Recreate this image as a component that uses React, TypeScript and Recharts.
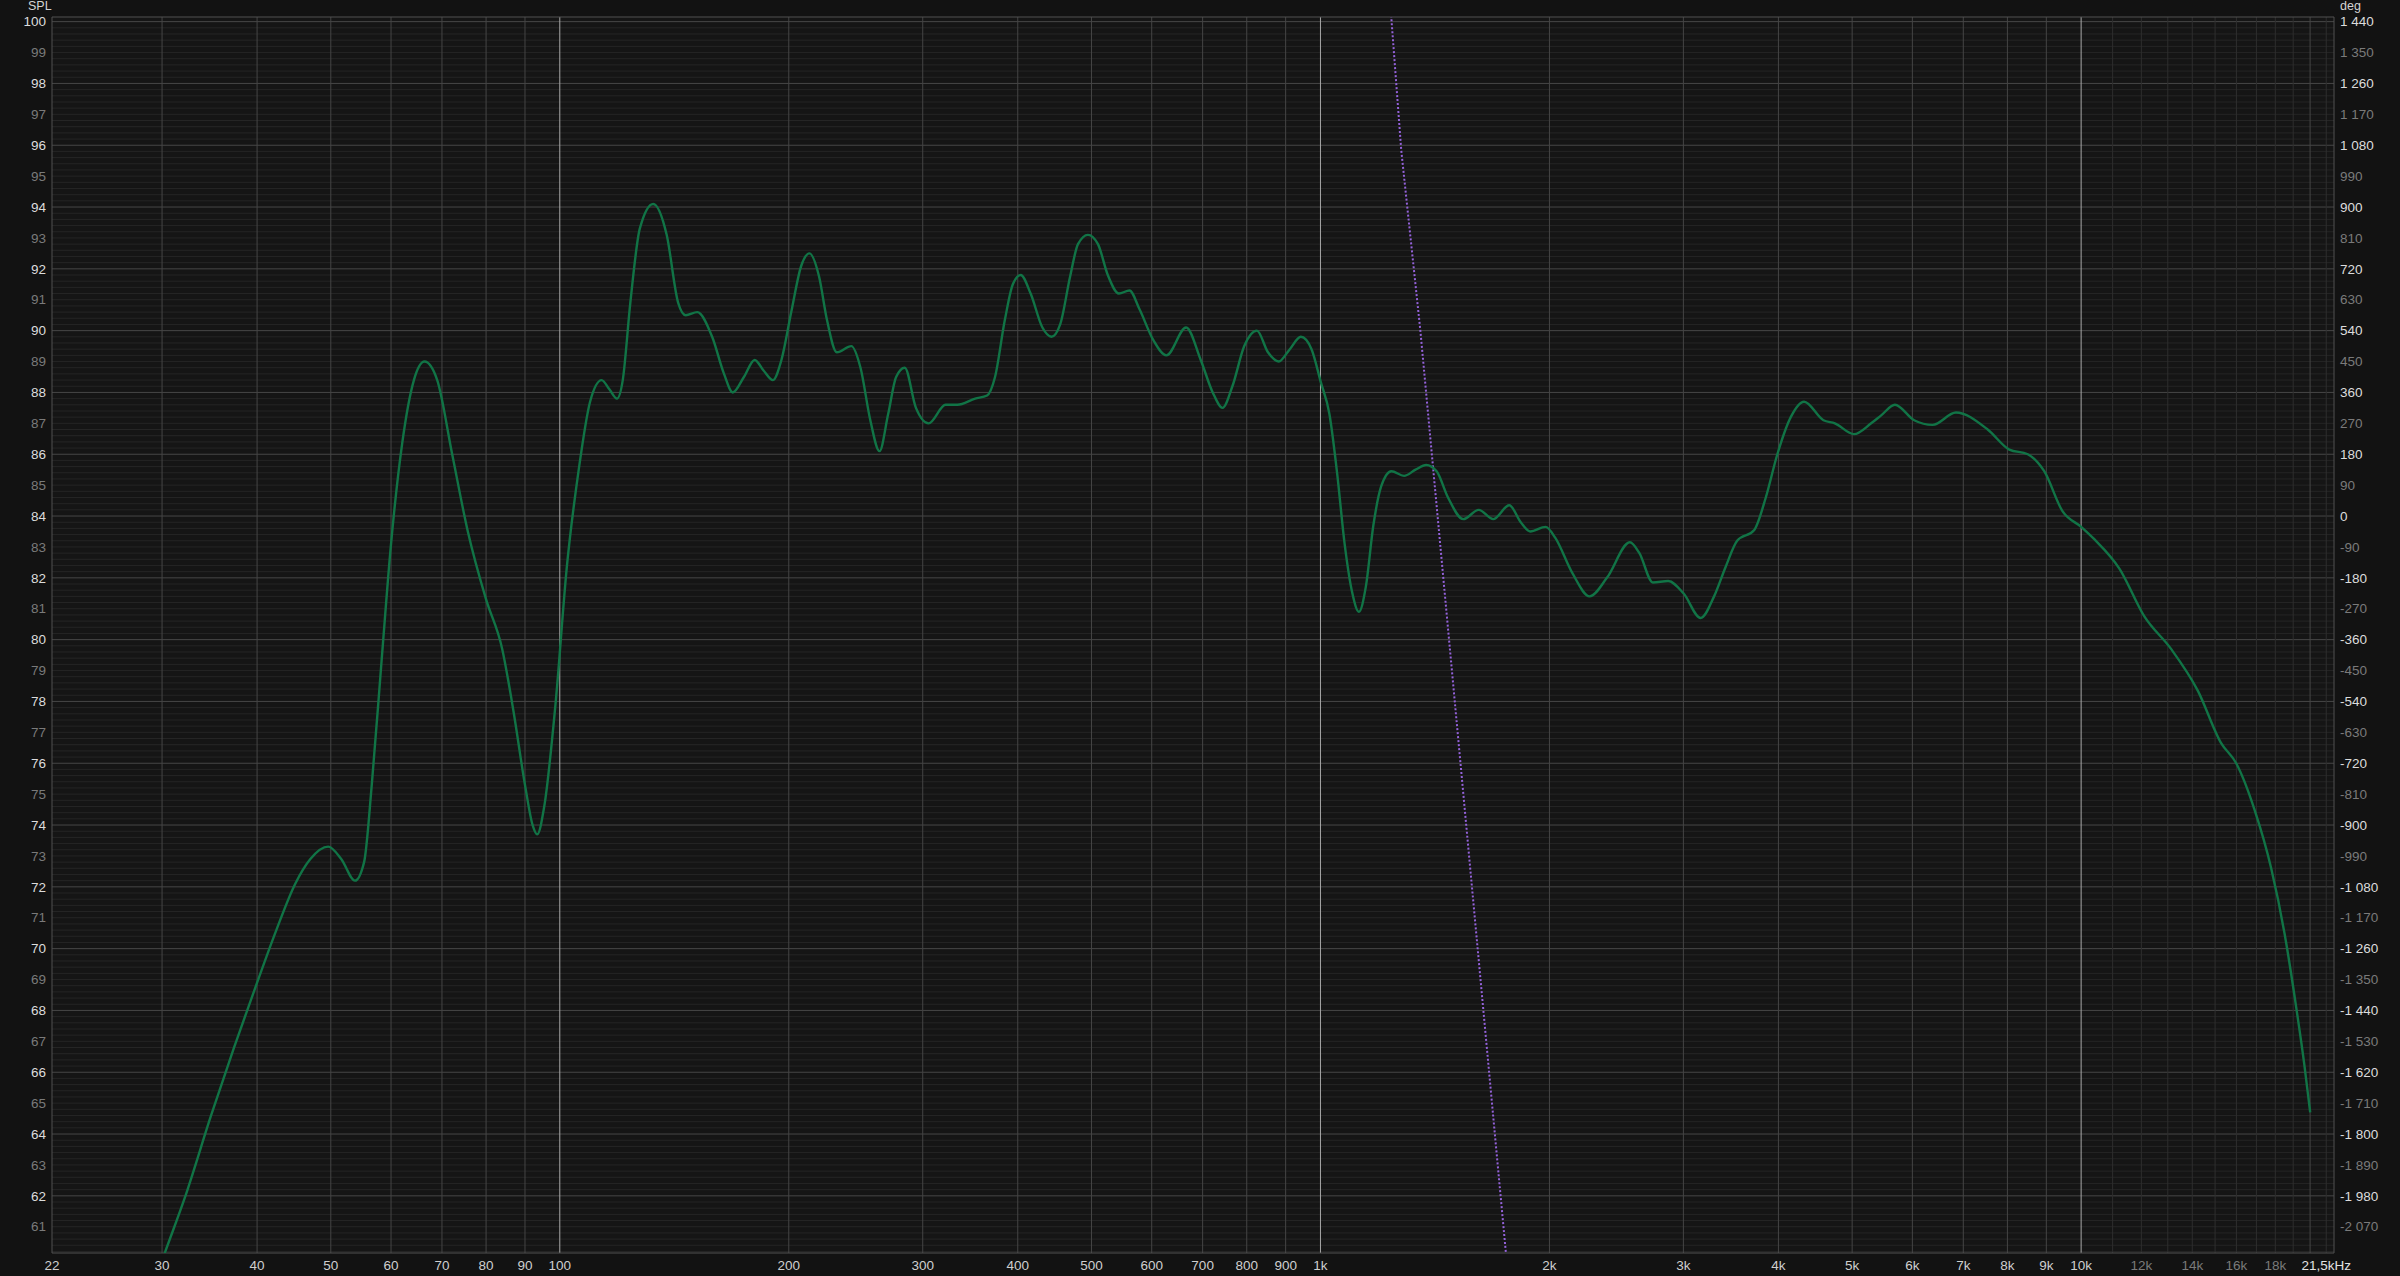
import React from "react";
import { LineChart, Line, XAxis, YAxis, ReferenceLine, ReferenceArea } from "recharts";

// Frequency response (SPL, left axis) with its phase (deg, right axis), REW-style dark plot.
const FREQ_HZ = [
  30.0, 30.3, 32.1, 34.8, 37.3, 40.0, 42.4, 44.9, 47.0, 49.6, 51.6, 53.8, 55.3, 56.6, 58.3, 60.0,
  62.1, 64.3, 66.4, 69.0, 72.2, 75.7, 80.0, 84.0, 86.9, 90.0, 92.1, 93.4, 95.4, 98.7, 102.2, 105.9,
  109.6, 113.5, 116.2, 118.9, 121.0, 123.8, 127.4, 132.7, 138.2, 143.1, 146.4, 151.6, 158.6, 164.4,
  168.8, 174.6, 180.4, 185.4, 190.6, 195.6, 201.5, 207.7, 212.9, 219.2, 224.5, 231.3, 241.7, 248.5,
  256.0, 263.2, 270.2, 276.8, 284.1, 293.9, 305.4, 321.5, 333.2, 351.6, 364.5, 373.4, 384.7, 394.1,
  403.6, 415.9, 431.0, 443.0, 454.8, 468.7, 480.0, 494.7, 509.9, 525.3, 543.3, 561.0, 578.1, 602.8,
  627.2, 665.9, 696.0, 721.7, 743.4, 766.0, 794.0, 825.0, 853.1, 881.3, 911.4, 942.3, 973.3, 1000.6,
  1027.5, 1051.6, 1075.9, 1101.4, 1123.3, 1147.0, 1173.7, 1201.4, 1239.5, 1287.8, 1333.5, 1377.2,
  1421.4, 1471.2, 1540.9, 1614.5, 1686.9, 1771, 1833.5, 1887, 1977, 2035, 2144, 2258.6, 2380, 2551,
  2626, 2735, 2865, 3001, 3161, 3292, 3409, 3530, 3718, 3850, 3987, 4152, 4323, 4584, 4745, 5027,
  5296, 5455, 5691, 6033, 6379, 6846, 7536, 8046, 8508, 8943, 9456, 10000, 10406, 11228, 12109,
  13128, 14235, 15278, 15990, 16901, 17777, 18508, 19176, 19664, 20006,
];
const SPL_DB = [
  59.9, 60.2, 61.9, 64.6, 66.8, 68.9, 70.6, 72.1, 72.9, 73.3, 72.9, 72.2, 72.8, 75.3, 79.3, 83.1,
  86.4, 88.4, 89.0, 88.4, 86.0, 83.5, 81.3, 79.7, 77.7, 75.3, 74.0, 73.7, 74.6, 77.9, 82.4, 85.5,
  87.7, 88.4, 88.1, 87.8, 88.4, 90.9, 93.3, 94.1, 93.1, 90.9, 90.5, 90.6, 89.8, 88.6,
  88.0, 88.5, 89.05, 88.7, 88.4, 89.05, 90.6, 92.1, 92.5, 91.75, 90.35, 89.3, 89.5, 88.8,
  87.1, 86.1, 87.3, 88.5, 88.8, 87.5, 87.0, 87.6, 87.6, 87.8, 87.9, 88.5, 90.35, 91.5,
  91.8, 91.2, 90.1, 89.8, 90.2, 91.75, 92.8, 93.1, 92.8, 91.8, 91.2, 91.3, 90.7, 89.7,
  89.2, 90.1, 89.05, 88.0, 87.5, 88.2, 89.5, 90.0, 89.3, 89.0, 89.4, 89.8, 89.4, 88.35,
  87.3, 85.4, 83.1, 81.5, 80.9, 81.7, 83.7, 84.95, 85.45, 85.3, 85.5, 85.65,
  85.45, 84.6, 83.9, 84.2, 83.9, 84.35, 83.8, 83.5, 83.65, 83.3, 82.15, 81.4, 82.0, 83.15,
  82.8, 81.85, 81.9, 81.5, 80.7, 81.4, 82.35, 83.2, 83.55, 84.6, 86.0, 87.2, 87.7, 87.1, 87.0, 86.65,
  87.0, 87.25, 87.6, 87.1, 86.95, 87.35, 86.8, 86.15, 86.0, 85.45, 84.15, 83.65, 83.25, 82.3, 80.75,
  79.7, 78.35, 76.65, 76.0, 74.5, 72.6, 70.5, 68.1, 66.2, 64.7,
];

const PHASE_FREQ_HZ = [1200, 1239, 1277, 1353, 1476, 1610, 1703, 1753, 1812];
const PHASE_DEG = [1795, 1454, 1066, 541, -361, -1264, -1847, -2146, -2487];

const X_TICKS = [
  21.5, 30, 40, 50, 60, 70, 80, 90, 100, 200, 300, 400, 500, 600, 700, 800, 900, 1000, 2000, 3000,
  4000, 5000, 6000, 7000, 8000, 9000, 10000, 12000, 14000, 16000, 18000, 21500,
];
const X_TICK_LABELS = [
  "22", "30", "40", "50", "60", "70", "80", "90", "100", "200", "300", "400", "500", "600", "700",
  "800", "900", "1k", "2k", "3k", "4k", "5k", "6k", "7k", "8k", "9k", "10k", "12k", "14k", "16k",
  "18k", "21,5kHz",
];
const X_DIM_TICKS = [12000, 14000, 16000, 18000];

const SPL_TICKS = [
  61, 62, 63, 64, 65, 66, 67, 68, 69, 70, 71, 72, 73, 74, 75, 76, 77, 78, 79, 80, 81, 82, 83, 84, 85,
  86, 87, 88, 89, 90, 91, 92, 93, 94, 95, 96, 97, 98, 99, 100,
];
const DEG_TICKS = [
  -2070, -1980, -1890, -1800, -1710, -1620, -1530, -1440, -1350, -1260, -1170, -1080, -990, -900,
  -810, -720, -630, -540, -450, -360, -270, -180, -90, 0, 90, 180, 270, 360, 450, 540, 630, 720, 810,
  900, 990, 1080, 1170, 1260, 1350, 1440,
];

const X_GRID = [
  30, 40, 50, 60, 70, 80, 90, 200, 300, 400, 500, 600, 700, 800, 900, 2000, 3000, 4000, 5000, 6000,
  7000, 8000, 9000, 20000,
];
const X_GRID_BRIGHT = [100, 1000, 10000];
const X_GRID_FINE = [11000, 12000, 13000, 14000, 15000, 16000, 17000, 18000, 19000, 21000];

const X_DOMAIN = [21.5, 21500];
const SPL_DOMAIN = [60.15, 100.15];
const DEG_DOMAIN = [-2146.5, 1453.5];

const FONT = "'Liberation Sans', Arial, sans-serif";

const splData = FREQ_HZ.map((f, i) => ({ f, spl: SPL_DB[i] }));
const phaseData = PHASE_FREQ_HZ.map((f, i) => ({ f, deg: PHASE_DEG[i] }));

// 0.2 dB minor lines; even dB get the brighter major line
const minorSpl: number[] = [];
for (let i = 1; i <= 200; i++) {
  const v = +(60 + i * 0.2).toFixed(1);
  if (!(Number.isInteger(v) && v % 2 === 0)) minorSpl.push(v);
}
const evenSpl = SPL_TICKS.filter((v) => v % 2 === 0);

function fmtDeg(v: number) {
  const s = Math.abs(v).toString().replace(/\B(?=(\d{3})+(?!\d))/g, " ");
  return (v < 0 ? "-" : "") + s;
}

const LeftTick = (props: any) => {
  const { x, y, payload } = props;
  return (
    <text x={x} y={y} dy={4.7} textAnchor="end" fontSize={13.5} fontFamily={FONT}
      fill={payload.value % 2 === 0 ? "#dcdcdc" : "#7a7a7a"}>
      {payload.value}
    </text>
  );
};

const RightTick = (props: any) => {
  const { x, y, payload } = props;
  const even = Math.round(payload.value / 90) % 2 === 0;
  return (
    <text x={x} y={y} dy={4.7} textAnchor="start" fontSize={13.5} fontFamily={FONT}
      fill={even ? "#dcdcdc" : "#7a7a7a"}>
      {fmtDeg(payload.value)}
    </text>
  );
};

const BottomTick = (props: any) => {
  const { x, y, payload } = props;
  const i = X_TICKS.indexOf(payload.value);
  const last = i === X_TICKS.length - 1;
  const dim = X_DIM_TICKS.includes(payload.value);
  return (
    <text x={last ? x + 17 : x} y={y} dy={16.5} textAnchor={last ? "end" : "middle"}
      fontSize={13.5} fontFamily={FONT} fill={dim ? "#7a7a7a" : last ? "#e2e2e2" : "#cfcfcf"}>
      {X_TICK_LABELS[i]}
    </text>
  );
};

export default function App() {
  return (
    <div style={{ position: "absolute", left: 0, top: 0, width: 2400, height: 1276, background: "#121212", overflow: "hidden" }}>
      <div style={{ position: "absolute", left: 28, top: 0, fontFamily: FONT, fontSize: 12.5, lineHeight: "13px", color: "#d4d4d4" }}>SPL</div>
      <div style={{ position: "absolute", left: 2340, top: 0, fontFamily: FONT, fontSize: 12.5, lineHeight: "13px", color: "#d4d4d4" }}>deg</div>
      <LineChart width={2400} height={1276} margin={{ top: 17, right: 0, bottom: 0, left: 0 }}>
        <XAxis dataKey="f" type="number" scale="log" domain={X_DOMAIN} allowDataOverflow ticks={X_TICKS}
          interval={0} height={23} tickSize={0} tickMargin={0} axisLine={false} tickLine={false} tick={BottomTick} />
        <YAxis yAxisId="spl" type="number" domain={SPL_DOMAIN} allowDataOverflow ticks={SPL_TICKS}
          interval={0} width={52} tickSize={0} tickMargin={6} axisLine={false} tickLine={false} tick={LeftTick} />
        <YAxis yAxisId="deg" orientation="right" type="number" domain={DEG_DOMAIN} allowDataOverflow
          ticks={DEG_TICKS} interval={0} width={66} tickSize={0} tickMargin={6} axisLine={false}
          tickLine={false} tick={RightTick} />

        <ReferenceArea yAxisId="spl" x1={X_DOMAIN[0]} x2={X_DOMAIN[1]} y1={SPL_DOMAIN[0]} y2={SPL_DOMAIN[1]}
          fill="#151515" fillOpacity={1} stroke="none" />
        {minorSpl.map((v) => (
          <ReferenceLine key={"m" + v} yAxisId="spl" y={v} stroke="#252525" strokeWidth={1} />
        ))}
        {evenSpl.map((v) => (
          <ReferenceLine key={"e" + v} yAxisId="spl" y={v} stroke="#474747" strokeWidth={1} />
        ))}
        {X_GRID_FINE.map((v) => (
          <ReferenceLine key={"xf" + v} yAxisId="spl" x={v} stroke="#2e2e2e" strokeWidth={1} />
        ))}
        {X_GRID.map((v) => (
          <ReferenceLine key={"x" + v} yAxisId="spl" x={v} stroke="#454545" strokeWidth={1} />
        ))}
        {X_GRID_BRIGHT.map((v) => (
          <ReferenceLine key={"xb" + v} yAxisId="spl" x={v} stroke="#a8a8a8" strokeWidth={1} />
        ))}
        <ReferenceLine yAxisId="spl" y={SPL_DOMAIN[1]} stroke="#505050" strokeWidth={1} />
        <ReferenceLine yAxisId="spl" y={SPL_DOMAIN[0]} stroke="#505050" strokeWidth={1} />
        <ReferenceLine yAxisId="spl" x={X_DOMAIN[0]} stroke="#505050" strokeWidth={1} />
        <ReferenceLine yAxisId="spl" x={X_DOMAIN[1]} stroke="#505050" strokeWidth={1} />

        <Line yAxisId="deg" data={phaseData} dataKey="deg" type="linear" stroke="#9462da" strokeWidth={2}
          strokeDasharray="2 2" dot={false} activeDot={false} isAnimationActive={false} />
        <Line yAxisId="spl" data={splData} dataKey="spl" type="monotone" stroke="#117446" strokeWidth={2.4}
          dot={false} activeDot={false} isAnimationActive={false} />
      </LineChart>
    </div>
  );
}
